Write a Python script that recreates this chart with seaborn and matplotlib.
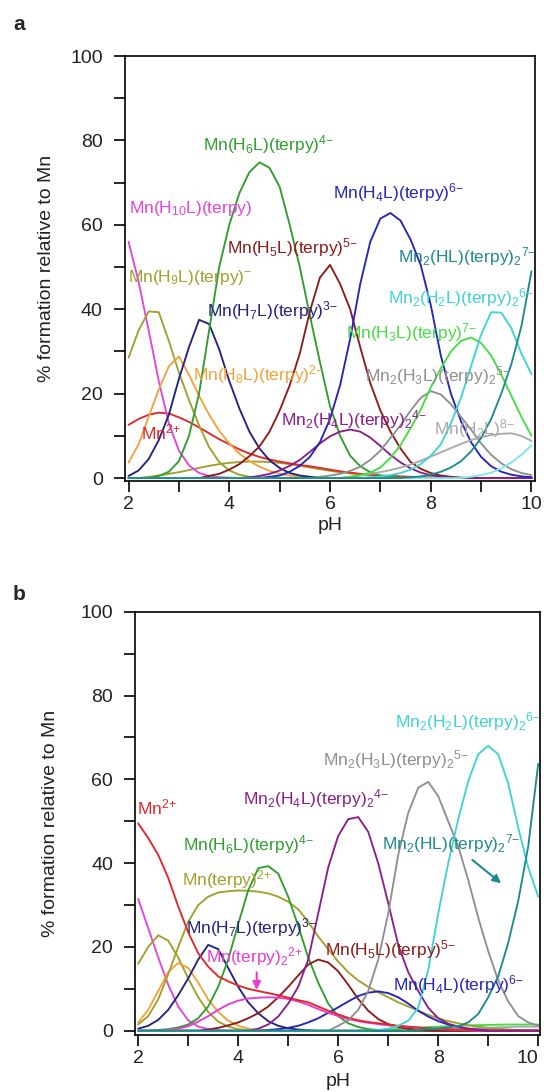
import matplotlib
matplotlib.use("Agg")
import matplotlib.pyplot as plt
import seaborn as sns

# pH grid shared by every curve (read every 0.2 pH unit)
PH = [2.0, 2.2, 2.4, 2.6, 2.8, 3.0, 3.2, 3.4, 3.6, 3.8,
      4.0, 4.2, 4.4, 4.6, 4.8, 5.0, 5.2, 5.4, 5.6, 5.8,
      6.0, 6.2, 6.4, 6.6, 6.8, 7.0, 7.2, 7.4, 7.6, 7.8,
      8.0, 8.2, 8.4, 8.6, 8.8, 9.0, 9.2, 9.4, 9.6, 9.8, 10.0]

# ---- panel a : % formation values ----
a_mn = [12.6, 14.0, 15.0, 15.5, 15.3, 14.4, 13.3, 12.0, 10.6, 9.2,
        8.0, 6.8, 5.8, 5.0, 4.4, 3.9, 3.5, 3.1, 2.8, 2.4,
        2.0, 1.6, 1.3, 1.0, 0.8, 0.6, 0.5, 0.4, 0.3, 0.2,
        0.2, 0.1, 0.1] + [0] * 8
a_h10 = [56, 46.5, 35, 23, 13, 6.5, 3, 1.2, 0.5, 0.2, 0.1] + [0] * 30
a_h9 = [28.5, 35, 39.5, 39.3, 32.5, 25, 18.5, 12.5, 7.3, 3.8,
        1.8, 0.8, 0.3, 0.1] + [0] * 27
a_h8 = [3.7, 8, 14.5, 21, 26.5, 28.8, 24.5, 19.5, 15, 11.2,
        8.2, 5.8, 4, 2.7, 1.7, 1.0, 0.6, 0.3, 0.1] + [0] * 22
a_h7 = [0.5, 1.8, 4.5, 9, 15, 23.5, 31, 37.5, 36.5, 30.5,
        23, 16.5, 11, 7, 4.2, 2.4, 1.2, 0.6, 0.3, 0.1] + [0] * 21
a_h6 = [0, 0, 0, 0.5, 1.5, 4, 10, 20, 35, 50,
        60, 67.5, 72.5, 74.8, 73.5, 69, 60, 50, 38.5, 27.5,
        17, 10, 5.3, 2.8, 1.4, 0.6, 0.3, 0.1] + [0] * 13
a_h5 = [0] * 8 + [0.5, 1,
        2, 3.3, 5.2, 7.5, 11, 16, 22, 29.5, 39.5, 47.5,
        50.5, 46, 40, 31, 22.5, 16, 11, 7, 3.8, 2.2,
        1.2, 0.6, 0.3, 0.1] + [0] * 7
a_h4 = [0] * 14 + [0.3, 0.6, 1.5, 2.9, 5, 8.5,
        14, 22, 33, 46, 56, 61.5, 62.8, 61, 56.5, 50.5,
        41, 29, 20, 13.5, 8.5, 5, 2.8, 1.5, 0.8, 0.4, 0.2]
a_m2h4 = [0] * 12 + [0.2, 0.5, 1, 1.8, 2.9, 4.3, 6.2, 8.2,
          9.9, 11, 11.5, 11, 9.6, 7.6, 5.5, 3.7, 2.3, 1.3,
          0.7, 0.3, 0.1] + [0] * 8
a_h3 = [0] * 22 + [0.3, 0.7, 1.3, 2.5, 4.8, 7.8, 11.8, 16.2,
        21.5, 26, 30, 32.5, 33.3, 32, 29, 24.5, 19.5, 14.5, 10]
a_m2h3 = [0] * 19 + [0.3,
          0.6, 1, 1.7, 2.7, 4.3, 6.5, 9.5, 12.5, 16, 19,
          20.6, 19.8, 17.5, 14.5, 11.5, 8.2, 5.5, 3.5, 2.1, 1.2, 0.7]
a_h2 = [0] * 22 + [0.3, 0.6, 1, 1.4, 1.9, 2.5, 3.2, 4.1,
        5.1, 6.1, 7.1, 8.1, 9.0, 9.7, 10.2, 10.5, 10.6, 10.0, 8.8]
a_m2h2 = [0] * 24 + [0.2, 0.4, 0.7, 1.2, 2, 3.3,
          5.3, 8, 13, 19, 26.5, 34, 39.3, 39.2, 35.5, 29.5, 24.6]
a_m2l = [0] * 34 + [0.3, 0.7, 1.3, 2.3, 3.7, 5.5, 7.8]
a_m2hl = [0] * 28 + [0.2, 0.4,
          0.8, 1.5, 2.5, 4, 6.3, 9.5, 14, 20, 27, 36, 49]
a_terpy = [0, 0, 0.3, 0.6, 1, 1.4, 1.9, 2.4, 2.9, 3.3,
           3.6, 3.8, 3.9, 3.9, 3.8, 3.6, 3.3, 2.9, 2.5, 2.1,
           1.7, 1.4, 1.1, 0.9, 0.7, 0.5, 0.4, 0.3, 0.2, 0.1] + [0] * 11

# ---- panel b : % formation values ----
b_mn = [49.5, 46, 42, 36.5, 29.7, 23.5, 18.5, 15.3, 13, 11.8,
        10.8, 10, 9.5, 9, 8.5, 7.9, 7.3, 6.8, 5.8, 4.8,
        3.9, 3.1, 2.5, 2.1, 1.8, 1.5, 1.2, 1.0, 0.8, 0.6,
        0.5, 0.4, 0.3, 0.2, 0.1] + [0] * 6
b_h10 = [31.5, 24.5, 17.5, 11, 5.8, 2.5, 1, 0.4, 0.1] + [0] * 32
b_h9 = [16, 20, 22.8, 21.5, 17.5, 12.5, 8, 4.5, 2.2, 1,
        0.4, 0.1] + [0] * 29
b_h8 = [2, 5, 9.5, 14, 16.2, 15, 11.5, 7.5, 4.5, 2.4,
        1.2, 0.5, 0.2] + [0] * 28
b_h7 = [0.5, 1.2, 2.6, 5, 8.5, 12.5, 17, 20.5, 19.5, 15,
        10.5, 6.8, 4.2, 2.3, 1.2, 0.6, 0.3, 0.1] + [0] * 23
b_h6 = [0, 0, 0.2, 0.4, 0.8, 1.5, 3, 5.8, 10.5, 17,
        25.5, 33.5, 38.8, 39.3, 37.5, 32, 25, 17.5, 11.5, 6.5,
        3.5, 1.8, 0.9, 0.4, 0.2] + [0] * 16
b_terpy = [1.5, 3.5, 7.5, 13.5, 20, 26, 30, 32, 33, 33.3,
           33.5, 33.4, 33.2, 32.8, 32, 30.8, 29, 26, 22.5, 19.5,
           16.5, 14, 12, 10.5, 9.2, 8, 6.8, 5.8, 4.8, 3.8,
           3, 2.3, 1.8, 1.3, 1, 0.7, 0.5, 0.3, 0.2, 0.1, 0.1]
b_terpy2 = [0, 0, 0, 0.2, 0.5, 1.1, 2.2, 3.5, 5, 6.3,
            7.2, 7.7, 7.9, 8, 7.9, 7.6, 7, 6.2, 5.2, 4.3,
            3.5, 2.8, 2.3, 1.9, 1.6, 1.3, 1.1, 0.9, 0.7, 0.5,
            0.4, 0.3, 0.2, 0.1] + [0] * 7
b_h5 = [0] * 7 + [0.3, 0.7, 1.3,
        2, 3, 4.2, 5.8, 8, 10.5, 13.2, 15.8, 17, 16.3,
        14.2, 11, 7.6, 4.8, 2.8, 1.6, 0.9, 0.5, 0.2, 0.1] + [0] * 11
b_h4 = [0] * 13 + [0.2, 0.4, 0.7, 1.2, 2, 3, 4.3,
        5.6, 7, 8.3, 9.1, 9.4, 9, 8, 6.5, 4.8, 3.4,
        2.3, 1.5, 0.9, 0.5, 0.3, 0.1] + [0] * 5
b_m2h4 = [0] * 12 + [0.5, 1.5, 3.4, 6.5, 10.5, 17, 28, 39,
          46.5, 50.5, 51, 47.5, 40, 30.5, 20.5, 14, 9.5, 5.5,
          3, 1.7, 1, 0.5, 0.2] + [0] * 6
b_m2h3 = [0] * 20 + [1.2, 2.5, 5, 9.5, 17, 28, 42, 52, 58, 59.4,
          56, 50, 44, 36, 27, 19, 12, 7, 3.5, 2, 1.2]
b_m2h2 = [0] * 24 + [0.2, 0.5, 1.2, 2.4, 5.5, 14.5,
          28, 40, 50.5, 59.5, 66, 68, 66, 59, 48.5, 39, 32]
b_m2hl = [0] * 28 + [0.2, 0.4,
          0.6, 0.8, 1.1, 2, 4, 8, 13, 21, 31, 44, 63.7]
b_h3 = [0] * 23 + [0.1, 0.2, 0.3, 0.45, 0.6, 0.75, 0.9,
        1.0, 1.1, 1.2, 1.3, 1.35, 1.4, 1.45, 1.5, 1.5, 1.5, 1.5]
b_h2 = [0] * 30 + [0.2, 0.3, 0.4, 0.5, 0.6, 0.7, 0.8, 0.9, 1, 1, 1]

# colours
RED = "#e3262a"
MAGENTA = "#e244dc"
PINK = "#e83ccf"
OLIVE = "#a0a02c"
ORANGE = "#f2a23c"
NAVY = "#23237e"
GREEN = "#2f9e2f"
DARKRED = "#8e1b1b"
BLUE = "#2525b8"
PURPLE = "#8a1f8a"
LIME = "#44dd44"
GRAY = "#8f8f8f"
LGRAY = "#a9a9a9"
CYAN = "#3fd3d3"
LCYAN = "#78e8e8"
TEAL = "#1f8a8a"

curves_a = [(a_terpy, OLIVE), (a_mn, RED), (a_h10, MAGENTA), (a_h9, OLIVE),
            (a_h8, ORANGE), (a_h7, NAVY), (a_h6, GREEN), (a_h5, DARKRED),
            (a_m2h4, PURPLE), (a_h4, BLUE), (a_m2h3, GRAY), (a_h2, LGRAY),
            (a_h3, LIME), (a_m2l, LCYAN), (a_m2h2, CYAN), (a_m2hl, TEAL)]
curves_b = [(b_h3, LIME), (b_h2, LGRAY), (b_h10, MAGENTA), (b_h9, OLIVE),
            (b_h8, ORANGE), (b_terpy, OLIVE), (b_h7, NAVY), (b_h6, GREEN),
            (b_h5, DARKRED), (b_h4, BLUE), (b_terpy2, PINK), (b_mn, RED),
            (b_m2h4, PURPLE), (b_m2h3, GRAY), (b_m2h2, CYAN), (b_m2hl, TEAL)]

labels_a = [("Mn(H$_6$L)(terpy)$^{4{-}}$", GREEN, 4.77, 79.0),
            ("Mn(H$_4$L)(terpy)$^{6{-}}$", BLUE, 7.35, 67.6),
            ("Mn(H$_{10}$L)(terpy)", MAGENTA, 3.23, 63.8),
            ("Mn(H$_5$L)(terpy)$^{5{-}}$", DARKRED, 5.25, 54.6),
            ("Mn$_2$(HL)(terpy)$_2$$^{7{-}}$", TEAL, 8.72, 52.5),
            ("Mn(H$_9$L)(terpy)$^{{-}}$", OLIVE, 3.22, 47.5),
            ("Mn$_2$(H$_2$L)(terpy)$_2$$^{6{-}}$", CYAN, 8.6, 42.8),
            ("Mn(H$_7$L)(terpy)$^{3{-}}$", NAVY, 4.86, 39.7),
            ("Mn(H$_3$L)(terpy)$^{7{-}}$", LIME, 7.62, 34.5),
            ("Mn(H$_8$L)(terpy)$^{2{-}}$", ORANGE, 4.57, 24.6),
            ("Mn$_2$(H$_3$L)(terpy)$_2$$^{5{-}}$", GRAY, 8.15, 24.3),
            ("Mn$_2$(H$_4$L)(terpy)$_2$$^{4{-}}$", PURPLE, 6.47, 13.9),
            ("Mn(H$_2$L)$^{8{-}}$", LGRAY, 8.86, 11.8),
            ("Mn$^{2{+}}$", RED, 2.65, 10.9)]
labels_b = [("Mn$_2$(H$_2$L)(terpy)$_2$$^{6{-}}$", CYAN, 8.6, 73.8),
            ("Mn$_2$(H$_3$L)(terpy)$_2$$^{5{-}}$", GRAY, 7.16, 64.8),
            ("Mn$_2$(H$_4$L)(terpy)$_2$$^{4{-}}$", PURPLE, 5.55, 55.5),
            ("Mn$^{2{+}}$", RED, 2.38, 53.2),
            ("Mn$_2$(HL)(terpy)$_2$$^{7{-}}$", TEAL, 8.25, 44.8),
            ("Mn(H$_6$L)(terpy)$^{4{-}}$", GREEN, 4.21, 44.4),
            ("Mn(terpy)$^{2{+}}$", OLIVE, 3.77, 36.0),
            ("Mn(H$_7$L)(terpy)$^{3{-}}$", NAVY, 4.27, 24.7),
            ("Mn(H$_5$L)(terpy)$^{5{-}}$", DARKRED, 7.05, 19.3),
            ("Mn(terpy)$_2$$^{2{+}}$", PINK, 4.33, 17.7),
            ("Mn(H$_4$L)(terpy)$^{6{-}}$", BLUE, 8.41, 11.0)]

sns.set_theme(style="ticks")
plt.rcParams["font.family"] = ["Liberation Sans", "DejaVu Sans"]
plt.rcParams["mathtext.fontset"] = "custom"
plt.rcParams["mathtext.rm"] = "Liberation Sans"
plt.rcParams["mathtext.it"] = "Liberation Sans:italic"
plt.rcParams["mathtext.bf"] = "Liberation Sans:bold"

fig = plt.figure(figsize=(5.44, 10.92), dpi=100)
ax_a = fig.add_axes([0.2298, 0.5595, 0.7537, 0.3892])
ax_b = fig.add_axes([0.2489, 0.0522, 0.7438, 0.3876])


def draw_panel(ax, curves, labels, xlim, ylim, ylab_x, xlab_y):
    for vals, color in curves:
        sns.lineplot(x=PH, y=vals, ax=ax, color=color, lw=1.35)
    for txt, color, x, y in labels:
        ax.text(x, y, txt, color=color, fontsize=12.5, ha="center", va="center")
    ax.set_xlim(*xlim)
    ax.set_ylim(*ylim)
    ax.set_xticks([2, 4, 6, 8, 10])
    ax.set_xticks([3, 5, 7, 9], minor=True)
    ax.set_yticks([0, 20, 40, 60, 80, 100])
    ax.set_yticks([10, 30, 50, 70, 90], minor=True)
    ax.tick_params(which="both", direction="out", length=8, width=1.2,
                   color="black", labelsize=14, labelcolor="#222222")
    ax.tick_params(axis="y", pad=8)
    ax.tick_params(axis="x", pad=3)
    for s in ax.spines.values():
        s.set_linewidth(1.2)
        s.set_color("black")
    ax.set_xlabel("pH", fontsize=14, color="#222222")
    ax.set_ylabel("% formation relative to Mn", fontsize=14, color="#222222")
    ax.yaxis.set_label_coords(ylab_x, 0.5)
    ax.xaxis.set_label_coords(0.5, xlab_y)


draw_panel(ax_a, curves_a, labels_a, (1.93, 10.07), (-0.7, 100), -0.171, -0.085)
draw_panel(ax_b, curves_b, labels_b, (1.944, 10.036), (-1.0, 100), -0.189, -0.09)

# keep the last tick label of panel b inside the figure
ax_b.get_xticklabels()[-1].set_horizontalalignment("right")

# arrows in panel b
ax_b.annotate("", xy=(4.37, 9.1), xytext=(4.37, 14.6),
              arrowprops=dict(arrowstyle="-|>", color=PINK, lw=1.5))
ax_b.annotate("", xy=(9.3, 34.8), xytext=(8.64, 41.2),
              arrowprops=dict(arrowstyle="-|>", color=TEAL, lw=1.5))

fig.text(19.5 / 544, 1 - 24 / 1092, "a", fontsize=15, fontweight="bold",
         ha="center", va="center")
fig.text(19 / 544, 1 - 595 / 1092, "b", fontsize=15, fontweight="bold",
         ha="center", va="center")

fig.savefig("out.png", dpi=100)
